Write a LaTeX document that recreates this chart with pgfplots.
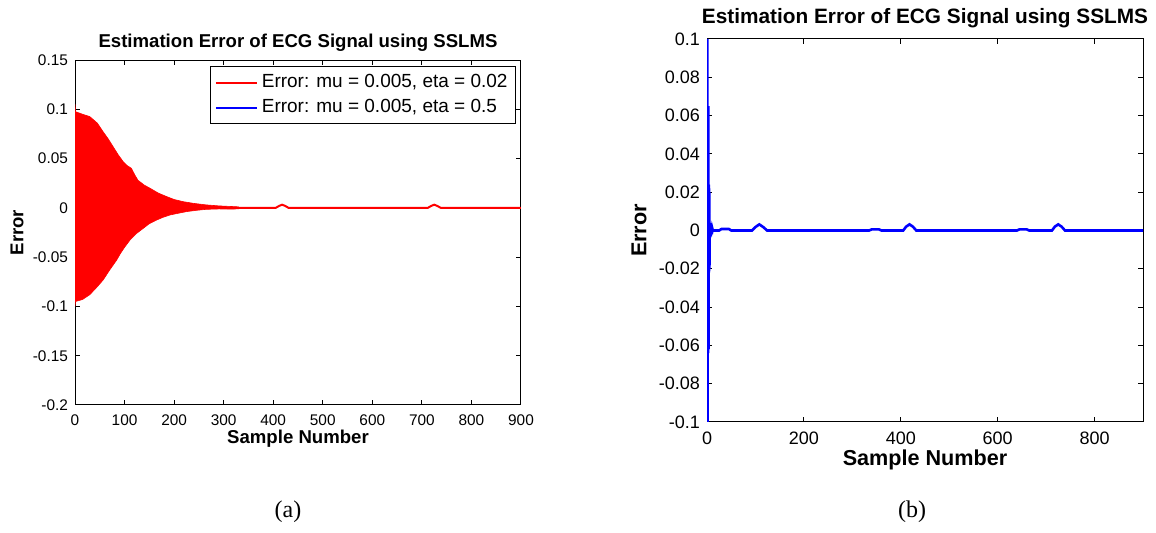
\documentclass[border=0pt]{standalone}
\usepackage{pgfplots}
\pgfplotsset{compat=1.18}
\usepackage{fontspec}
\setmainfont{Liberation Sans}
\newfontfamily\timesfont{Liberation Serif}
\definecolor{mred}{RGB}{255,0,0}
\definecolor{mblue}{RGB}{0,0,255}
\begin{document}
\begin{tikzpicture}
\useasboundingbox (0,0) rectangle (578pt,-266.5pt);
% ---------- (a) ----------
\begin{axis}[
  at={(37.5pt,-202.5pt)}, anchor=south west,
  scale only axis, width=223pt, height=172.5pt,
  xmin=0, xmax=900, ymin=-0.2, ymax=0.15,
  xtick={0,100,...,900},
  ytick={-0.2,-0.15,-0.1,-0.05,0,0.05,0.1,0.15},
  yticklabels={-0.2,-0.15,-0.1,-0.05,0,0.05,0.1,0.15},
  xticklabels={0,100,200,300,400,500,600,700,800,900},
  tick align=inside, major tick length=2.5pt,
  tick style={black, line width=0.5pt},
  axis line style={black, line width=0.5pt},
  /pgf/number format/assume math mode=true,
  tick label style={font=\fontsize{7.7pt}{9pt}\selectfont},
  xticklabel style={yshift=-1.5pt},
  every axis title shift=0pt,
  title={\textbf{Estimation Error of ECG Signal using SSLMS}},
  title style={font=\fontsize{9.3pt}{10pt}\selectfont, at={(axis description cs:0.5,1.05)}, anchor=center},
  xlabel={\textbf{Sample Number}},
  ylabel={\textbf{Error}},
  xlabel style={font=\fontsize{9.3pt}{10pt}\selectfont, at={(axis description cs:0.5,-0.099)}, anchor=center},
  ylabel style={font=\fontsize{9.3pt}{10pt}\selectfont, at={(axis description cs:-0.13,0.5)}, anchor=center, rotate=0},
  legend style={at={(axis description cs:0.989,0.983)}, anchor=north east,
    font=\fontsize{9.5pt}{11pt}\selectfont, draw=black, line width=0.5pt,
    inner xsep=2pt, inner ysep=2pt, row sep=0.5pt, legend cell align=left},
  legend image code/.code={\draw[#1, line width=1pt] (0pt,0pt) -- (0.72cm,0pt);},
]
\addplot[draw=mred, fill=mred, line width=0.3pt, forget plot] coordinates {
(0,0.105)(1,0.0976)(15,0.095)(30,0.0925)(45,0.086)(57,0.077)(67,0.070)(77,0.062)
(87,0.054)(97,0.047)(105,0.043)(114,0.040)(120,0.034)(127,0.028)(140,0.023)(151,0.020)
(168,0.015)(185,0.0114)(200,0.0085)(218,0.0063)(240,0.0045)(265,0.003)(290,0.002)
(319,0.0013)(330,0.001)
(330,-0.001)(319,-0.0012)(290,-0.0011)(265,-0.0015)(245,-0.0025)(225,-0.0038)
(208,-0.0055)(192,-0.0072)(178,-0.0095)(165,-0.0123)(150,-0.016)(138,-0.0207)
(124,-0.026)(111,-0.0326)(100,-0.040)(92,-0.046)(84,-0.053)(70,-0.063)(57,-0.073)
(45,-0.080)(30,-0.088)(15,-0.093)(1,-0.095)(0,-0.100)
} -- cycle;
\addplot[draw=mred, line width=1pt] coordinates {
(320,0)(405,0)(412,0.002)(418,0.0032)(424,0.002)(431,0)(712,0)(719,0.002)(725,0.0032)
(731,0.002)(738,0)(900,0)
};
\addlegendentry{Error: mu = 0.005, eta = 0.02}
\addlegendimage{mblue}
\addlegendentry{Error: mu = 0.005, eta = 0.5}
\end{axis}
% ---------- (b) ----------
\begin{axis}[
  at={(353.5pt,-211pt)}, anchor=south west,
  scale only axis, width=218pt, height=191.5pt,
  xmin=0, xmax=900, ymin=-0.1, ymax=0.1,
  xtick={0,200,400,600,800},
  xticklabels={0,200,400,600,800},
  ytick={-0.1,-0.08,-0.06,-0.04,-0.02,0,0.02,0.04,0.06,0.08,0.1},
  yticklabels={-0.1,-0.08,-0.06,-0.04,-0.02,0,0.02,0.04,0.06,0.08,0.1},
  tick align=inside, major tick length=2.5pt,
  tick style={black, line width=0.5pt},
  axis line style={black, line width=0.5pt},
  /pgf/number format/assume math mode=true,
  tick label style={font=\fontsize{9pt}{10pt}\selectfont},
  xticklabel style={yshift=-1.5pt},
  every axis title shift=0pt,
  title={\textbf{Estimation Error of ECG Signal using SSLMS}},
  title style={font=\fontsize{10.4pt}{12pt}\selectfont, at={(axis description cs:0.5,1.055)}, anchor=center},
  xlabel={\textbf{Sample Number}},
  ylabel={\textbf{Error}},
  xlabel style={font=\fontsize{10.8pt}{12pt}\selectfont, at={(axis description cs:0.5,-0.099)}, anchor=center},
  ylabel style={font=\fontsize{10.8pt}{12pt}\selectfont, at={(axis description cs:-0.156,0.5)}, anchor=center, rotate=0},
]
\addplot[draw=mblue, line width=1.3pt] coordinates {
(0,-0.1)(0.5,0.1)(1,-0.1)(1.5,0.065)(2,-0.064)(2.5,0.065)(3,-0.062)(3.5,0.024)
(4,-0.022)(4.5,0.022)(5,-0.02)(5.5,0.004)(6,-0.004)(7,0.004)(8,-0.003)(9,0.003)
(10,-0.002)(11,0.001)(12,0)(25,0)(30,0.0008)(45,0.0008)(50,0)(93,0)(100,0.0018)
(108,0.0032)(116,0.0018)(124,0)(335,0)(340,0.0006)(355,0.0006)(360,0)(405,0)
(411,0.002)(418,0.0032)(425,0.002)(432,0)(640,0)(645,0.0006)(660,0.0006)(665,0)
(712,0)(718,0.002)(725,0.0032)(732,0.002)(739,0)(900,0)
};
\end{axis}
\node[font=\timesfont\fontsize{12pt}{14pt}\selectfont] at (144pt,-256pt) {(a)};
\node[font=\timesfont\fontsize{12pt}{14pt}\selectfont] at (456pt,-256pt) {(b)};
\end{tikzpicture}
\end{document}
